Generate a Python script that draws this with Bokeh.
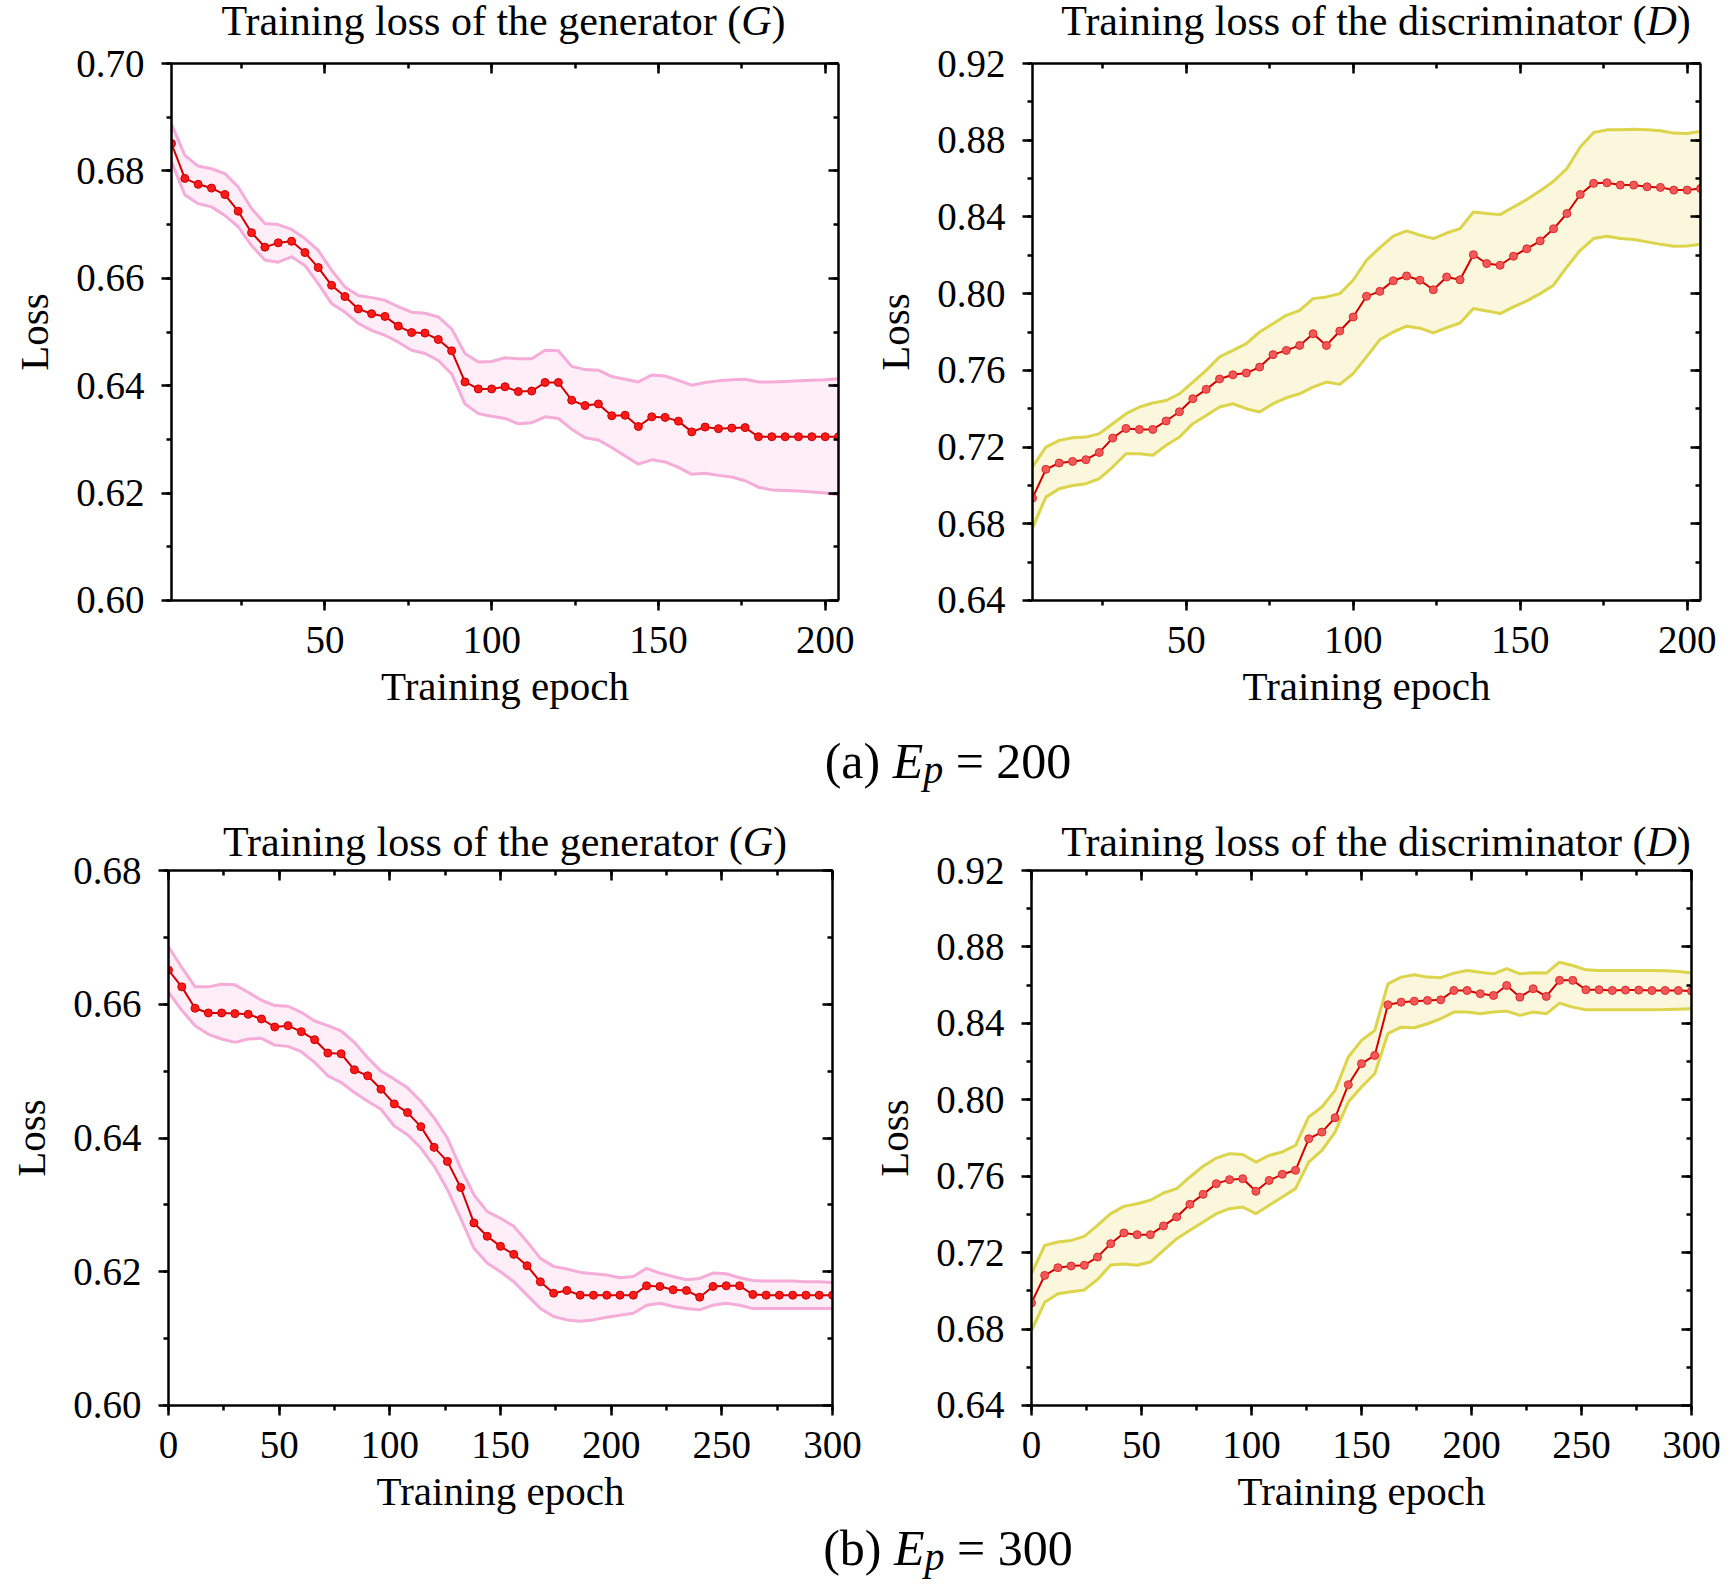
from bokeh.plotting import figure
from bokeh.layouts import column, row
from bokeh.models import (Div, LinearAxis, SingleIntervalTicker, NumeralTickFormatter, Range1d,
                          CustomLabelingPolicy)
from bokeh.embed import file_html
from bokeh.resources import INLINE

FONT = "Liberation Serif"

# ---- data ----
epochs_200 = [4, 8, 12, 16, 20, 24, 28, 32, 36, 40, 44, 48, 52, 56, 60, 64, 68, 72, 76, 80,
              84, 88, 92, 96, 100, 104, 108, 112, 116, 120, 124, 128, 132, 136, 140, 144, 148,
              152, 156, 160, 164, 168, 172, 176, 180, 184, 188, 192, 196, 200, 204]
epochs_300 = [0, 6, 12, 18, 24, 30, 36, 42, 48, 54, 60, 66, 72, 78, 84, 90, 96, 102, 108, 114,
              120, 126, 132, 138, 144, 150, 156, 162, 168, 174, 180, 186, 192, 198, 204, 210,
              216, 222, 228, 234, 240, 246, 252, 258, 264, 270, 276, 282, 288, 294, 300]

g200_mean = [0.6851, 0.6786, 0.6775, 0.6768, 0.6756, 0.6725, 0.6685, 0.6658, 0.6666, 0.6669,
             0.6648, 0.6620, 0.6587, 0.6566, 0.6543, 0.6534, 0.6529, 0.6511, 0.6499, 0.6498,
             0.6486, 0.6465, 0.6407, 0.6394, 0.6394, 0.6398, 0.6389, 0.6390, 0.6406, 0.6406,
             0.6373, 0.6363, 0.6366, 0.6344, 0.6345, 0.6324, 0.6342, 0.6341, 0.6334, 0.6314,
             0.6323, 0.6320, 0.6321, 0.6322, 0.6305, 0.6305, 0.6305, 0.6305, 0.6305, 0.6305, 0.6305]
g200_upper = [0.6887, 0.6829, 0.6809, 0.6804, 0.6795, 0.6770, 0.6730, 0.6702, 0.6700, 0.6691,
              0.6674, 0.6652, 0.6615, 0.6584, 0.6568, 0.6564, 0.6559, 0.6547, 0.6537, 0.6535,
              0.6528, 0.6506, 0.6460, 0.6444, 0.6445, 0.6452, 0.6450, 0.6450, 0.6466, 0.6465,
              0.6436, 0.6430, 0.6429, 0.6417, 0.6412, 0.6407, 0.6420, 0.6418, 0.6410, 0.6401,
              0.6406, 0.6409, 0.6411, 0.6412, 0.6407, 0.6407, 0.6408, 0.6409, 0.6410, 0.6411, 0.6413]
g200_lower = [0.6817, 0.6755, 0.6739, 0.6733, 0.6717, 0.6696, 0.6661, 0.6634, 0.6630, 0.6640,
              0.6624, 0.6590, 0.6553, 0.6537, 0.6516, 0.6503, 0.6494, 0.6481, 0.6466, 0.6460,
              0.6447, 0.6422, 0.6366, 0.6348, 0.6343, 0.6339, 0.6329, 0.6331, 0.6342, 0.6339,
              0.6319, 0.6303, 0.6299, 0.6285, 0.6269, 0.6254, 0.6262, 0.6258, 0.6248, 0.6235,
              0.6237, 0.6233, 0.6230, 0.6223, 0.6211, 0.6206, 0.6205, 0.6204, 0.6202, 0.6200, 0.6197]

d200_mean = [0.6934, 0.7084, 0.7117, 0.7125, 0.7134, 0.7172, 0.7247, 0.7297, 0.7292, 0.7292,
             0.7336, 0.7384, 0.7452, 0.7501, 0.7555, 0.7577, 0.7586, 0.7617, 0.7682, 0.7704,
             0.7730, 0.7791, 0.7730, 0.7805, 0.7878, 0.7986, 0.8012, 0.8067, 0.8092, 0.8070,
             0.8020, 0.8087, 0.8072, 0.8203, 0.8157, 0.8148, 0.8195, 0.8234, 0.8275, 0.8338,
             0.8418, 0.8517, 0.8575, 0.8578, 0.8566, 0.8566, 0.8557, 0.8554, 0.8540, 0.8540, 0.8548]
d200_upper = [0.7096, 0.7200, 0.7235, 0.7249, 0.7252, 0.7270, 0.7322, 0.7374, 0.7409, 0.7430,
              0.7443, 0.7478, 0.7539, 0.7600, 0.7670, 0.7704, 0.7739, 0.7800, 0.7843, 0.7887,
              0.7913, 0.7974, 0.7983, 0.8000, 0.8070, 0.8174, 0.8240, 0.8300, 0.8327, 0.8305,
              0.8287, 0.8316, 0.8339, 0.8426, 0.8418, 0.8412, 0.8452, 0.8491, 0.8536, 0.8586,
              0.8652, 0.8765, 0.8840, 0.8854, 0.8854, 0.8857, 0.8854, 0.8849, 0.8837, 0.8835, 0.8846]
d200_lower = [0.6779, 0.6939, 0.6983, 0.7000, 0.7009, 0.7035, 0.7096, 0.7165, 0.7165, 0.7157,
              0.7209, 0.7252, 0.7322, 0.7365, 0.7409, 0.7426, 0.7400, 0.7383, 0.7426, 0.7457,
              0.7478, 0.7513, 0.7539, 0.7527, 0.7583, 0.7670, 0.7760, 0.7800, 0.7830, 0.7820,
              0.7795, 0.7823, 0.7847, 0.7922, 0.7910, 0.7896, 0.7931, 0.7962, 0.8000, 0.8044,
              0.8139, 0.8226, 0.8287, 0.8299, 0.8287, 0.8282, 0.8270, 0.8257, 0.8247, 0.8249, 0.8257]

g300_mean = [0.6651, 0.6626, 0.6594, 0.6587, 0.6587, 0.6586, 0.6585, 0.6578, 0.6566, 0.6568,
             0.6559, 0.6547, 0.6527, 0.6526, 0.6502, 0.6493, 0.6473, 0.6451, 0.6438, 0.6417,
             0.6386, 0.6365, 0.6326, 0.6273, 0.6253, 0.6238, 0.6226, 0.6209, 0.6185, 0.6168,
             0.6172, 0.6165, 0.6165, 0.6165, 0.6165, 0.6165, 0.6179, 0.6178, 0.6173, 0.6172,
             0.6162, 0.6178, 0.6179, 0.6179, 0.6166, 0.6165, 0.6165, 0.6165, 0.6165, 0.6165, 0.6165]
g300_upper = [0.6686, 0.6655, 0.6626, 0.6626, 0.6630, 0.6629, 0.6618, 0.6606, 0.6598, 0.6597,
              0.6588, 0.6575, 0.6568, 0.6560, 0.6543, 0.6520, 0.6500, 0.6488, 0.6475, 0.6455,
              0.6430, 0.6400, 0.6355, 0.6315, 0.6290, 0.6280, 0.6268, 0.6245, 0.6220, 0.6208,
              0.6204, 0.6199, 0.6197, 0.6195, 0.6191, 0.6193, 0.6205, 0.6198, 0.6193, 0.6188,
              0.6190, 0.6198, 0.6197, 0.6191, 0.6187, 0.6186, 0.6186, 0.6186, 0.6185, 0.6185, 0.6184]
g300_lower = [0.6618, 0.6591, 0.6568, 0.6555, 0.6548, 0.6543, 0.6548, 0.6549, 0.6539, 0.6537,
              0.6529, 0.6513, 0.6493, 0.6483, 0.6468, 0.6455, 0.6443, 0.6418, 0.6405, 0.6385,
              0.6358, 0.6323, 0.6280, 0.6235, 0.6213, 0.6200, 0.6185, 0.6165, 0.6145, 0.6133,
              0.6128, 0.6126, 0.6128, 0.6132, 0.6135, 0.6138, 0.6150, 0.6153, 0.6148, 0.6145,
              0.6143, 0.6150, 0.6153, 0.6150, 0.6145, 0.6145, 0.6145, 0.6145, 0.6145, 0.6145, 0.6145]

d300_mean = [0.6937, 0.7081, 0.7121, 0.7130, 0.7134, 0.7177, 0.7247, 0.7303, 0.7294, 0.7294,
             0.7340, 0.7387, 0.7453, 0.7505, 0.7561, 0.7582, 0.7587, 0.7521, 0.7578, 0.7610,
             0.7631, 0.7796, 0.7831, 0.7906, 0.8079, 0.8189, 0.8232, 0.8497, 0.8511, 0.8516,
             0.8520, 0.8523, 0.8572, 0.8572, 0.8555, 0.8546, 0.8598, 0.8537, 0.8581, 0.8541,
             0.8625, 0.8625, 0.8576, 0.8576, 0.8572, 0.8574, 0.8574, 0.8572, 0.8572, 0.8572, 0.8569]
d300_upper = [0.7090, 0.7238, 0.7256, 0.7264, 0.7285, 0.7343, 0.7404, 0.7442, 0.7456, 0.7474,
              0.7512, 0.7535, 0.7596, 0.7652, 0.7695, 0.7718, 0.7714, 0.7674, 0.7709, 0.7727,
              0.7761, 0.7910, 0.7962, 0.8049, 0.8224, 0.8311, 0.8363, 0.8607, 0.8642, 0.8654,
              0.8642, 0.8639, 0.8663, 0.8677, 0.8668, 0.8659, 0.8686, 0.8659, 0.8665, 0.8663,
              0.8720, 0.8703, 0.8680, 0.8677, 0.8677, 0.8677, 0.8677, 0.8677, 0.8675, 0.8672, 0.8663]
d300_lower = [0.6792, 0.6940, 0.6985, 0.6995, 0.7005, 0.7060, 0.7135, 0.7140, 0.7134, 0.7151,
              0.7212, 0.7273, 0.7317, 0.7360, 0.7404, 0.7430, 0.7439, 0.7404, 0.7448, 0.7491,
              0.7535, 0.7674, 0.7735, 0.7831, 0.7988, 0.8067, 0.8136, 0.8346, 0.8380, 0.8377,
              0.8398, 0.8424, 0.8459, 0.8459, 0.8450, 0.8459, 0.8464, 0.8442, 0.8459, 0.8450,
              0.8506, 0.8485, 0.8471, 0.8471, 0.8471, 0.8471, 0.8471, 0.8471, 0.8472, 0.8474, 0.8476]

title_g = "Training loss of the generator (<i>G</i>)"
title_d = "Training loss of the discriminator (<i>D</i>)"
caption_a = "(a) <i>E</i><span style=\"font-size:0.8em;position:relative;top:5px\"><i>p</i></span> = 200"
caption_b = "(b) <i>E</i><span style=\"font-size:0.8em;position:relative;top:5px\"><i>p</i></span> = 300"

G_BAND, G_FILL, G_DOT, G_EDGE = "#f5acd9", "#fdeef8", "#ff1a1a", "#c80000"
D_BAND, D_FILL, D_DOT, D_EDGE = "#dcd44a", "#faf7dc", "#f25858", "#dd2a2a"

NO_LABELS = CustomLabelingPolicy(code="""
for (const i of indices) { indices.unset(i) }
return indices
""")


def style_axis(ax):
    ax.axis_line_width = 2.5
    ax.major_tick_line_width = 2.5
    ax.minor_tick_line_width = 2.5
    ax.major_label_text_font = FONT
    ax.major_label_text_font_size = "39px"
    ax.major_label_text_color = "black"
    ax.axis_label_text_font = FONT
    ax.axis_label_text_font_size = "41px"
    ax.axis_label_text_font_style = "normal"
    ax.axis_label_text_color = "black"


def panel(x, mean, upper, lower, xr, yr, ystep, colors, w, h, bl, br, bt, bb):
    band, fill, dot, edge = colors
    p = figure(width=w, height=h, x_range=Range1d(*xr),
               y_range=Range1d(yr[0] - 1e-7, yr[1] + 1e-7),
               output_backend="svg", toolbar_location=None,
               min_border_left=bl, min_border_right=br, min_border_top=bt, min_border_bottom=bb,
               x_axis_label="Training epoch", y_axis_label="Loss")
    p.grid.visible = False
    p.outline_line_color = None
    p.border_fill_color = None

    p.varea(x=x, y1=lower, y2=upper, fill_color=fill)
    p.line(x, upper, line_color=band, line_width=3)
    p.line(x, lower, line_color=band, line_width=3)
    p.line(x, mean, line_color="#d40000", line_width=2)
    p.scatter(x, mean, size=8, fill_color=dot, line_color=edge, line_width=1)

    xt = SingleIntervalTicker(interval=50, num_minor_ticks=2)
    yt = SingleIntervalTicker(interval=ystep, num_minor_ticks=2)

    xa = p.xaxis[0]
    xa.ticker = xt
    style_axis(xa)
    xa.major_tick_in, xa.major_tick_out = 0, 10
    xa.minor_tick_in, xa.minor_tick_out = 0, 5
    xa.major_label_standoff = 16
    xa.axis_label_standoff = 7

    ya = p.yaxis[0]
    ya.ticker = yt
    ya.formatter = NumeralTickFormatter(format="0.00")
    style_axis(ya)
    ya.major_tick_in, ya.major_tick_out = 0, 10
    ya.minor_tick_in, ya.minor_tick_out = 0, 5
    ya.major_label_standoff = 17
    ya.axis_label_standoff = 16

    for loc, tk in (("above", xt), ("right", yt)):
        ax = LinearAxis(ticker=tk)
        style_axis(ax)
        ax.major_tick_in, ax.major_tick_out = 10, 0
        ax.minor_tick_in, ax.minor_tick_out = 5, 0
        ax.major_label_text_font_size = "0px"
        ax.major_label_standoff = 0
        ax.major_label_policy = NO_LABELS
        p.add_layout(ax, loc)
    return p


def title_div(html, width, height, shift, inner_w, dy, pull=0):
    text = ('<div style="font-family:\'Liberation Serif\';font-size:42px;line-height:42px;'
            f'color:black;white-space:nowrap;text-align:center;width:{inner_w}px;'
            f'margin-left:{shift}px;padding-top:{dy}px">{html}</div>')
    return Div(text=text, width=width, height=height, margin=(0, 0, -pull, 0))


def caption_div(html, height, dy):
    text = ('<div style="font-family:\'Liberation Serif\';font-size:50px;line-height:50px;'
            'color:black;white-space:nowrap;text-align:center;width:1500px;'
            f'margin-left:198px;padding-top:{dy}px">{html}</div>')
    return Div(text=text, width=1724, height=height, margin=0)


p_g200 = panel(epochs_200, g200_mean, g200_upper, g200_lower, (4, 204), (0.60, 0.70), 0.02,
               (G_BAND, G_FILL, G_DOT, G_EDGE), 868, 689, 171, 30, 37, 115)
p_d200 = panel(epochs_200, d200_mean, d200_upper, d200_lower, (4, 204), (0.64, 0.92), 0.04,
               (D_BAND, D_FILL, D_DOT, D_EDGE), 856, 689, 164, 24, 37, 115)
p_g300 = panel(epochs_300, g300_mean, g300_upper, g300_lower, (0, 300), (0.60, 0.68), 0.02,
               (G_BAND, G_FILL, G_DOT, G_EDGE), 868, 680, 168, 36, 30, 115)
p_d300 = panel(epochs_300, d300_mean, d300_upper, d300_lower, (0, 300), (0.64, 0.92), 0.04,
               (D_BAND, D_FILL, D_DOT, D_EDGE), 856, 680, 159, 33, 30, 115)

top = row(column(title_div(title_g, 868, 46, 170, 667, 0, pull=20), p_g200),
          column(title_div(title_d, 856, 46, 174, 668, 0, pull=20), p_d200))
bottom = row(column(title_div(title_g, 868, 70, 173, 664, 21, pull=30), p_g300),
             column(title_div(title_d, 856, 70, 176, 664, 21, pull=30), p_d300))

layout = column(top, caption_div(caption_a, 85, 21), bottom, caption_div(caption_b, 60, 3))

open("out.html", "w").write(file_html(layout, INLINE))
